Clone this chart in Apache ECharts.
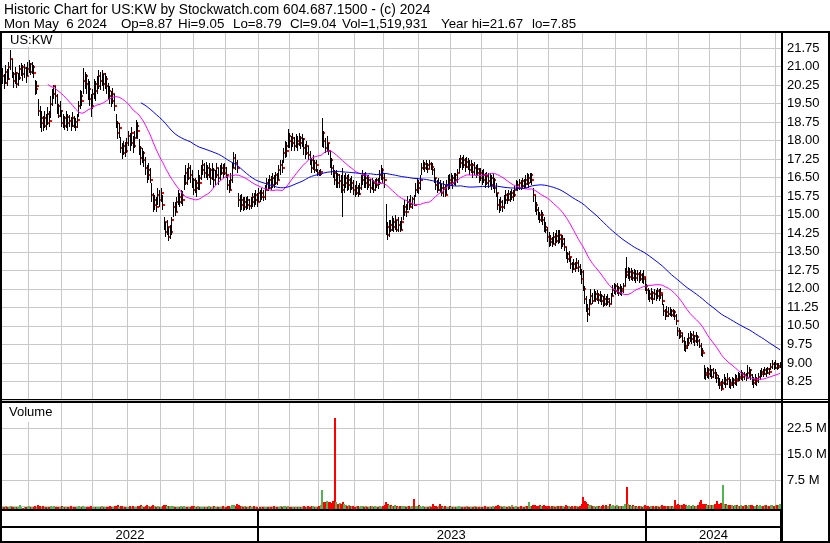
<!DOCTYPE html>
<html>
<head>
<meta charset="utf-8">
<script src="https://cdn.jsdelivr.net/npm/echarts@6/dist/echarts.min.js"></script>
<style>html,body{margin:0;padding:0;background:#fff}#c{width:830px;height:543px}</style>
</head>
<body>
<div id="c"></div>
<script>
// ---------------- data ----------------
const title1 = 'Historic Chart for US:KW by Stockwatch.com 604.687.1500 - (c) 2024';
const title2Fields = ['Mon May  6 2024', 'Op=8.87', 'Hi=9.05', 'Lo=8.79', 'Cl=9.04', 'Vol=1,519,931', 'Year hi=21.67', 'lo=7.85'];
const symbolLabel = 'US:KW';
const volumeLabel = 'Volume';
const yearLabels = ['2022', '2023', '2024'];
const firstDay = '2022-05-06';
const lastDay = '2024-05-06';
const holidays = ['2022-05-30','2022-06-20','2022-07-04','2022-09-05','2022-11-24','2022-12-26',
  '2023-01-02','2023-01-16','2023-02-20','2023-04-07','2023-05-29','2023-06-19','2023-07-04',
  '2023-09-04','2023-11-23','2023-12-25','2024-01-01','2024-01-15','2024-02-19','2024-03-29'];

const closes = [
20.60,20.35,20.80,20.50,21.00,21.30,20.70,20.40,20.75,20.30,
20.55,20.90,21.00,20.70,20.95,20.60,20.90,21.10,20.80,21.00,
20.75,20.10,20.20,19.20,18.70,18.90,18.60,18.90,18.70,19.10,
18.80,19.50,19.90,20.20,19.80,19.40,19.00,19.20,18.70,18.90,
18.60,18.95,18.70,18.80,18.60,18.90,18.75,18.55,18.85,19.40,
19.80,19.60,20.40,20.60,20.30,20.10,19.70,19.40,19.90,20.30,
20.00,20.20,20.60,20.40,20.70,20.30,20.50,20.20,20.00,19.80,
19.60,19.90,19.40,18.70,18.30,18.50,17.70,17.50,17.80,17.60,
17.90,18.20,17.90,18.30,17.80,18.10,18.60,18.40,17.70,17.30,
17.50,17.20,16.90,16.60,16.80,16.40,15.80,15.40,15.60,15.30,
15.80,15.60,15.90,15.40,14.70,14.30,14.50,14.10,14.30,14.80,
15.30,15.10,15.50,15.70,15.50,15.80,15.60,16.30,16.70,16.50,
16.90,16.60,16.40,16.00,16.30,16.10,16.50,16.30,16.80,17.00,
16.70,16.90,16.60,16.80,16.50,16.80,16.40,16.60,16.90,16.50,
16.70,16.90,16.70,16.90,16.60,16.20,16.00,16.40,16.90,17.30,
17.10,16.90,15.60,15.40,15.60,15.30,15.50,15.40,15.60,15.35,
15.50,15.70,15.60,15.80,15.50,15.90,15.70,15.90,15.70,16.00,
16.30,16.10,16.40,16.20,16.50,16.30,16.60,16.40,16.80,17.00,
16.90,17.50,17.80,17.60,18.20,18.00,17.90,18.10,17.80,18.00,
17.85,18.10,17.90,18.05,17.70,17.50,17.80,17.40,17.20,16.90,
17.10,16.80,17.00,16.70,16.65,16.75,18.30,18.00,17.70,17.90,
17.60,17.20,16.90,16.70,16.40,16.60,16.30,16.35,16.20,16.00,
16.30,16.50,16.20,16.40,16.10,16.30,16.00,15.90,16.10,15.85,
16.10,16.40,16.60,16.30,16.50,16.20,16.40,16.10,16.30,16.00,
16.20,16.40,16.30,16.60,16.80,16.50,16.40,14.50,14.20,14.60,
14.40,14.70,14.50,14.80,14.40,14.60,14.40,14.70,15.10,15.30,
15.10,15.50,15.30,15.45,15.65,15.40,16.00,16.30,16.10,16.40,
16.90,17.05,16.90,17.00,16.85,17.05,16.95,16.80,16.50,16.20,
16.00,16.30,16.10,15.90,16.10,15.80,16.20,16.40,16.30,16.50,
16.30,16.60,16.40,16.70,17.10,17.25,17.00,17.20,16.95,17.15,
17.00,16.80,17.00,16.75,16.90,16.70,16.85,16.50,16.70,16.40,
16.60,16.30,16.55,16.35,16.50,16.20,16.40,16.10,15.90,15.40,
15.30,15.50,15.30,15.60,15.80,15.60,15.85,15.70,15.90,15.80,
16.00,16.20,16.10,16.30,16.15,16.35,16.25,16.40,16.30,16.50,
16.60,16.40,15.80,15.40,15.20,15.00,14.80,15.00,14.80,14.50,
14.40,14.10,13.90,14.00,13.80,14.10,13.95,14.15,14.00,14.20,
13.80,14.00,13.70,13.40,13.20,13.30,13.00,12.80,13.00,12.85,
13.05,12.90,12.70,12.40,12.00,11.60,11.20,11.00,11.40,11.70,
11.50,11.80,11.60,11.75,11.55,11.70,11.50,11.40,11.60,11.45,
11.60,11.40,11.70,11.95,12.10,11.90,12.05,11.85,12.00,11.90,
12.10,12.70,12.55,12.70,12.50,12.65,12.45,12.60,12.45,12.60,
12.40,12.55,12.40,12.50,12.10,11.95,11.80,11.65,11.85,11.60,
11.80,11.70,11.90,11.75,11.85,11.50,11.10,10.90,11.05,11.00,
11.10,10.95,11.05,10.90,10.70,10.30,10.10,10.20,9.90,9.70,
9.60,9.80,10.00,10.15,9.95,10.10,9.90,10.05,9.90,9.70,
9.50,9.40,8.60,8.50,8.70,8.55,8.70,8.45,8.60,8.50,
8.40,8.20,8.10,7.95,8.20,8.30,8.15,8.35,8.20,8.10,
8.30,8.20,8.35,8.25,8.45,8.40,8.55,8.45,8.50,8.40,
8.60,8.70,8.50,8.30,8.20,8.35,8.25,8.45,8.55,8.65,
8.55,8.70,8.60,8.75,8.65,8.85,8.95,8.80,8.95,8.85,
8.87,9.04];

const highs = [
20.95,20.70,21.05,20.90,21.20,21.67,21.30,20.80,21.00,20.80,
20.75,21.05,21.15,21.05,21.10,21.00,21.20,21.25,21.15,21.20,
21.05,20.45,20.40,19.70,19.40,19.20,19.00,19.20,19.10,19.35,
19.20,19.80,20.10,20.25,20.20,19.90,19.50,19.60,19.25,19.10,
19.00,19.20,19.10,19.05,18.95,19.15,19.00,18.90,19.10,19.60,
20.05,20.00,20.93,20.80,20.70,20.50,20.40,19.90,20.10,20.50,
20.40,20.60,20.85,20.80,20.85,20.70,20.75,20.60,20.35,20.20,
20.00,20.15,19.90,19.10,18.80,18.70,18.15,17.90,18.00,17.95,
18.10,18.40,18.30,18.55,18.20,18.40,18.83,18.75,18.05,17.80,
17.70,17.60,17.35,17.00,17.10,16.90,16.30,15.90,15.80,15.70,
16.10,16.00,16.10,15.80,14.90,14.70,14.80,14.50,14.60,14.90,
15.50,15.50,15.70,16.00,15.90,16.00,15.95,16.60,17.00,16.90,
17.10,17.00,16.80,16.50,16.50,16.40,16.80,16.60,17.00,17.20,
17.10,17.15,17.00,17.10,16.90,17.10,16.90,16.80,17.10,16.90,
17.00,17.10,17.05,17.10,16.95,16.60,16.40,16.70,17.10,17.55,
17.45,17.20,15.90,15.80,15.85,15.70,15.70,15.70,15.75,15.65,
15.70,15.90,15.90,16.00,15.90,16.10,16.00,16.10,16.00,16.20,
16.50,16.45,16.60,16.55,16.70,16.60,16.75,16.70,17.00,17.20,
17.20,17.70,18.00,17.95,18.47,18.30,18.20,18.30,18.15,18.25,
18.20,18.30,18.20,18.25,18.10,17.85,18.00,17.80,17.60,17.30,
17.40,17.20,17.20,16.85,16.80,16.85,18.90,18.40,18.10,18.20,
17.90,17.60,17.30,17.00,16.80,16.80,16.70,16.65,16.60,16.90,
16.60,16.70,16.60,16.65,16.50,16.55,16.40,16.20,16.35,16.20,
16.30,16.60,16.80,16.70,16.75,16.60,16.60,16.45,16.50,16.40,
16.45,16.50,16.50,16.80,17.00,16.90,16.70,15.45,14.70,14.80,
14.80,14.95,14.85,15.00,14.80,14.90,14.75,14.90,15.40,15.60,
15.45,15.75,15.65,15.80,15.70,15.80,16.30,16.50,16.40,16.60,
17.10,17.20,17.15,17.20,17.10,17.20,17.15,17.10,16.90,16.50,
16.40,16.50,16.40,16.25,16.35,16.20,16.40,16.60,16.65,16.70,
16.60,16.70,16.70,16.85,17.30,17.42,17.35,17.40,17.30,17.35,
17.30,17.20,17.20,17.10,17.15,17.00,17.05,16.90,16.90,16.80,
16.85,16.70,16.75,16.70,16.70,16.60,16.65,16.50,16.30,15.90,
15.65,15.70,15.60,15.80,16.00,15.90,16.00,15.95,16.05,16.00,
16.15,16.40,16.35,16.45,16.40,16.50,16.45,16.60,16.70,16.65,
16.70,16.70,16.10,15.80,15.50,15.30,15.10,15.20,15.10,14.90,
14.70,14.50,14.30,14.20,14.10,14.30,14.25,14.40,14.40,14.40,
14.20,14.20,14.05,13.70,13.50,13.55,13.30,13.10,13.20,13.10,
13.25,13.15,13.00,12.80,12.75,12.10,11.70,11.40,11.60,12.00,
11.85,12.00,11.90,11.95,11.85,11.90,11.80,11.70,11.80,11.70,
11.80,11.65,11.85,12.15,12.25,12.20,12.25,12.10,12.20,12.10,
12.25,12.85,13.30,12.90,12.85,12.85,12.75,12.80,12.75,12.75,
12.70,12.75,12.65,12.75,12.50,12.20,12.05,11.95,12.05,11.90,
12.00,11.95,12.05,12.00,12.05,11.80,11.40,11.20,11.30,11.25,
11.25,11.20,11.20,11.15,11.00,10.45,10.40,10.35,10.20,10.05,
9.90,10.00,10.20,10.30,10.20,10.30,10.15,10.25,10.15,9.95,
9.80,9.60,8.90,8.80,8.85,8.80,8.90,8.75,8.80,8.75,
8.65,8.50,8.40,8.25,8.35,8.55,8.45,8.60,8.45,8.35,
8.45,8.40,8.55,8.50,8.65,8.60,8.70,8.65,8.65,8.60,
8.90,8.85,8.75,8.55,8.45,8.55,8.45,8.60,8.70,8.80,
8.75,8.85,8.80,8.85,8.80,9.00,9.10,9.05,9.10,9.00,
9.00,9.05];

const lows = [
20.30,20.10,20.30,20.20,20.45,20.85,20.55,20.15,20.30,20.15,
20.20,20.45,20.60,20.40,20.55,20.35,20.60,20.75,20.65,20.70,
20.55,19.85,19.90,19.00,18.50,18.35,18.40,18.50,18.45,18.65,
18.55,18.90,19.40,19.70,19.50,19.10,18.90,18.95,18.55,18.50,
18.45,18.50,18.40,18.55,18.40,18.55,18.50,18.40,18.50,18.95,
19.30,19.40,19.90,20.10,19.90,19.65,19.40,18.95,19.30,19.70,
19.60,19.90,20.10,20.05,20.20,20.00,20.10,19.90,19.70,19.50,
19.35,19.50,19.20,18.50,18.05,18.10,17.50,17.25,17.40,17.35,
17.50,17.80,17.60,17.80,17.50,17.70,18.10,18.05,17.40,17.00,
17.10,16.95,16.60,16.30,16.40,16.30,15.50,15.10,15.20,15.10,
15.40,15.30,15.50,15.20,14.40,14.10,14.20,13.95,14.00,14.20,
14.90,14.95,15.10,15.40,15.30,15.45,15.35,16.00,16.20,16.20,
16.40,16.30,16.10,15.80,15.90,15.70,16.00,16.00,16.40,16.60,
16.50,16.50,16.40,16.50,16.20,16.40,16.10,16.20,16.50,16.20,
16.40,16.60,16.50,16.60,16.50,16.00,15.90,16.00,16.30,16.90,
16.80,16.70,15.30,15.10,15.20,15.15,15.20,15.20,15.25,15.20,
15.25,15.30,15.30,15.40,15.30,15.50,15.50,15.60,15.55,15.60,
16.00,15.95,16.05,16.00,16.10,16.10,16.20,16.20,16.40,16.60,
16.70,17.10,17.30,17.35,17.70,17.70,17.60,17.75,17.60,17.70,
17.60,17.80,17.65,17.75,17.40,17.25,17.40,17.20,17.00,16.70,
16.80,16.70,16.75,16.55,16.55,16.55,17.75,17.70,17.50,17.55,
17.40,16.90,16.60,16.50,16.20,16.10,16.10,16.10,15.90,14.90,
15.90,16.10,15.95,16.00,15.90,16.00,15.80,15.70,15.80,15.70,
15.80,16.00,16.20,16.10,16.10,16.00,16.10,15.90,16.00,15.90,
15.95,16.10,16.05,16.20,16.40,16.30,16.10,14.20,13.97,14.10,
14.30,14.35,14.30,14.40,14.30,14.30,14.30,14.40,14.80,14.95,
14.90,15.20,15.20,15.30,15.25,15.35,15.70,15.90,15.85,16.00,
16.60,16.80,16.75,16.80,16.70,16.85,16.80,16.60,16.30,16.00,
15.90,15.95,15.90,15.75,15.70,15.70,15.80,16.00,16.05,16.15,
16.05,16.20,16.15,16.30,16.70,16.90,16.80,16.90,16.75,16.90,
16.80,16.60,16.70,16.50,16.60,16.50,16.55,16.30,16.35,16.20,
16.30,16.10,16.20,16.10,16.15,16.00,16.05,15.90,15.70,15.20,
15.07,15.15,15.10,15.25,15.45,15.45,15.55,15.50,15.60,15.55,
15.70,16.00,15.95,16.00,16.00,16.05,16.05,16.10,16.20,16.10,
16.30,16.20,15.50,15.10,15.00,14.80,14.65,14.70,14.60,14.30,
14.25,13.90,13.70,13.75,13.70,13.80,13.75,13.85,13.80,13.85,
13.60,13.70,13.55,13.20,13.05,13.10,12.80,12.65,12.75,12.70,
12.80,12.70,12.55,12.20,11.90,11.40,11.05,10.67,10.90,11.40,
11.40,11.50,11.45,11.50,11.40,11.45,11.35,11.25,11.30,11.30,
11.35,11.25,11.40,11.70,11.80,11.75,11.80,11.70,11.75,11.70,
11.85,12.10,12.45,12.40,12.30,12.35,12.30,12.30,12.25,12.30,
12.25,12.30,12.25,12.20,11.90,11.80,11.55,11.45,11.55,11.40,
11.55,11.50,11.60,11.50,11.60,11.35,10.90,10.75,10.85,10.85,
10.90,10.85,10.85,10.75,10.55,10.10,9.95,10.00,9.80,9.50,
9.45,9.55,9.70,9.85,9.75,9.80,9.70,9.80,9.70,9.60,
9.30,9.25,8.35,8.30,8.40,8.35,8.45,8.35,8.40,8.35,
8.20,8.05,7.95,7.85,7.95,8.10,8.00,8.10,8.00,7.95,
8.05,8.00,8.10,8.05,8.25,8.25,8.30,8.25,8.30,8.25,
8.40,8.40,8.30,8.10,8.00,8.10,8.05,8.20,8.30,8.45,
8.45,8.50,8.45,8.55,8.50,8.70,8.75,8.70,8.75,8.70,
8.75,8.79];

// daily volume, millions of shares
const volumes = [
0.8,0.7,0.9,0.6,0.8,1.0,0.7,0.6,0.8,0.7,
0.6,1.2,0.7,0.5,0.8,0.6,0.7,0.9,0.6,0.8,
0.7,0.9,0.8,1.1,1.0,0.8,0.9,0.7,0.6,0.8,
0.7,0.9,0.8,1.0,0.7,0.6,0.8,0.7,0.9,0.6,
0.7,0.8,0.6,0.7,0.9,0.6,0.7,0.8,0.6,0.9,
0.8,0.7,1.0,0.8,0.7,0.6,0.8,0.9,0.7,0.8,
0.6,0.7,0.8,0.6,0.9,0.7,0.6,0.8,0.7,0.9,
0.8,0.7,0.9,1.0,1.1,0.8,1.0,0.9,0.8,0.7,
0.8,0.7,0.9,0.8,1.0,0.7,0.8,0.9,1.0,1.15,
0.9,0.8,1.0,1.1,0.9,0.8,1.0,1.1,0.9,0.8,
0.9,0.8,0.7,0.9,1.2,1.1,0.9,1.0,0.9,1.0,
0.9,0.8,0.7,0.8,0.7,0.9,0.8,0.9,0.8,0.7,
0.8,0.7,0.9,1.0,0.8,0.7,0.9,0.8,0.7,0.8,
0.7,0.8,0.6,0.9,0.7,0.8,0.9,0.7,0.8,0.6,
0.7,0.8,0.9,0.7,0.8,1.0,0.9,0.8,1.1,1.2,
0.9,1.5,1.3,1.0,0.9,0.8,0.9,0.7,0.8,0.9,
0.8,0.7,0.9,0.6,0.7,0.5,0.8,0.7,0.6,0.7,
0.8,0.6,0.7,0.8,0.7,0.9,0.6,0.7,0.8,0.9,
0.7,1.0,0.9,0.8,1.0,0.8,0.7,0.8,0.6,0.8,
0.7,0.6,0.8,0.7,0.9,0.8,0.7,0.9,0.8,1.0,
0.9,0.8,0.7,0.8,1.0,1.2,5.5,2.2,2.0,2.3,
2.2,2.1,1.8,2.3,26.3,2.2,1.6,1.9,1.5,2.0,
1.4,1.2,1.0,1.1,0.9,1.0,0.9,0.8,1.0,0.9,
0.8,1.0,0.9,0.8,0.9,0.7,0.8,1.0,0.9,0.8,
0.9,0.8,0.7,0.9,0.8,1.0,1.1,2.0,1.6,1.3,
1.2,1.0,0.9,1.1,0.9,0.8,1.0,0.9,1.0,0.9,
0.8,0.9,1.0,0.8,0.9,2.9,1.0,0.9,1.2,1.0,
0.8,0.9,0.7,0.8,0.7,0.9,0.8,1.45,1.0,0.9,
0.8,0.9,1.4,1.0,0.8,0.9,0.7,0.8,0.9,0.7,
0.8,0.6,0.7,0.8,0.9,0.7,0.6,0.8,0.7,0.9,
0.8,0.7,0.6,0.8,0.9,0.7,0.8,0.6,0.7,0.8,
0.7,0.9,0.8,0.7,0.6,0.8,0.9,0.8,1.0,1.1,
1.0,0.9,0.8,0.9,0.7,0.8,0.9,0.7,1.15,0.8,
0.8,0.9,0.7,0.8,0.9,0.7,0.8,0.9,1.0,2.0,
1.0,0.9,1.1,1.2,1.0,0.9,1.1,1.0,0.9,1.1,
1.0,0.9,1.0,0.8,0.9,1.0,0.8,0.9,1.0,0.9,
0.9,1.0,0.8,1.1,1.0,0.9,0.8,0.9,0.8,1.0,
0.9,0.8,1.0,1.4,3.5,2.4,2.0,1.6,1.2,1.1,
1.0,0.9,0.8,0.9,1.0,0.8,0.9,1.2,1.0,1.1,
0.9,1.5,1.0,1.1,0.9,1.0,1.2,0.9,1.0,0.9,
1.0,1.5,6.3,1.6,1.2,1.0,1.1,0.9,1.0,0.8,
0.9,1.0,0.8,0.9,1.1,1.0,0.9,0.8,1.0,0.9,
0.8,0.9,1.0,0.8,0.9,1.1,1.0,0.9,1.0,0.9,
1.0,0.9,0.8,2.7,1.2,1.4,1.3,1.1,1.2,1.4,
1.2,1.0,1.1,0.9,1.0,1.1,0.9,1.0,1.2,2.0,
2.7,1.5,1.6,1.4,1.3,1.2,1.1,1.3,1.2,1.4,
2.3,1.4,1.6,1.8,7.0,1.6,1.4,1.2,1.1,1.3,
1.2,1.0,1.1,1.3,1.0,0.9,1.1,1.0,1.2,1.1,
1.0,1.2,1.3,1.1,1.0,0.9,1.2,1.0,1.1,0.9,
1.0,1.1,1.2,0.9,1.0,1.1,1.2,1.0,1.1,1.3,
1.2,1.52];

const maShort = 30;   // magenta moving average (days)
const maLong = 90;    // blue moving average (days)

// ---------------- derived helpers ----------------
function tradingDays(from, to, hol) {
  const out = [];
  const hs = new Set(hol);
  const [fy, fm, fd] = from.split('-').map(Number);
  const [ty, tm, td] = to.split('-').map(Number);
  let t = Date.UTC(fy, fm - 1, fd);
  const end = Date.UTC(ty, tm - 1, td);
  while (t <= end) {
    const d = new Date(t);
    const wd = d.getUTCDay();
    const s = d.toISOString().slice(0, 10);
    if (wd !== 0 && wd !== 6 && !hs.has(s)) out.push(s);
    t += 86400000;
  }
  return out;
}
function sma(arr, n) {
  return arr.map((v, i) => {
    if (i < n - 1) return null;
    let s = 0;
    for (let k = i - n + 1; k <= i; k++) s += arr[k];
    return +(s / n).toFixed(4);
  });
}

const dates = tradingDays(firstDay, lastDay, holidays);
const N = Math.min(dates.length, closes.length);
const cats = dates.slice(0, N);
const monthStart = cats.map((d, i) => i > 0 && d.slice(0, 7) !== cats[i - 1].slice(0, 7));
const yearStart = cats.map((d, i) => i > 0 && d.slice(0, 4) !== cats[i - 1].slice(0, 4));
const yearMid = cats.map(() => false);
yearLabels.forEach(y => {
  const idx = [];
  cats.forEach((d, i) => { if (d.slice(0, 4) === y) idx.push(i); });
  if (idx.length) yearMid[idx[Math.floor((idx.length - 1) / 2)]] = true;
});

const priceData = cats.map((d, i) => [i, highs[i], lows[i], closes[i]]);
const volData = cats.map((d, i) => [i, volumes[i], i === 0 || closes[i] >= closes[i - 1] ? 1 : 0]);
const ma1 = sma(closes.slice(0, N), maShort);
const ma2 = sma(closes.slice(0, N), maLong);

// ---------------- chart ----------------
const FONT = '"Liberation Sans", Arial, sans-serif';
const GRID = '#c8c8c8';
const title2X = [4, 121, 178, 233, 290, 342, 441, 532];
const chart = echarts.init(document.getElementById('c'), null, { renderer: 'canvas' });

const xBase = {
  type: 'category', data: cats, boundaryGap: true,
  axisLine: { show: false }, axisTick: { show: false }, axisLabel: { show: false }
};

const graphics = [
  { type: 'text', x: 4, y: 3, z: 100, style: { text: title1, font: '13.8px ' + FONT, fill: '#000' } },
  // frame lines
  { type: 'rect', z: 100, shape: { x: 0, y: 31, width: 830, height: 2 }, style: { fill: '#000' } },
  { type: 'rect', z: 100, shape: { x: 0, y: 31, width: 2, height: 512 }, style: { fill: '#000' } },
  { type: 'rect', z: 100, shape: { x: 828, y: 31, width: 2, height: 512 }, style: { fill: '#000' } },
  { type: 'rect', z: 100, shape: { x: 781, y: 31, width: 2, height: 512 }, style: { fill: '#000' } },
  { type: 'rect', z: 100, shape: { x: 0, y: 399, width: 830, height: 1 }, style: { fill: '#000' } },
  { type: 'rect', z: 100, shape: { x: 0, y: 401, width: 830, height: 2 }, style: { fill: '#000' } },
  { type: 'rect', z: 100, shape: { x: 0, y: 509, width: 782, height: 2 }, style: { fill: '#000' } },
  { type: 'rect', z: 100, shape: { x: 0, y: 526, width: 782, height: 2 }, style: { fill: '#000' } },
  { type: 'rect', z: 100, shape: { x: 0, y: 541, width: 830, height: 2 }, style: { fill: '#000' } },
  // panel labels
  { type: 'rect', z: 99, shape: { x: 2, y: 33, width: 54, height: 14 }, style: { fill: '#fff' } },
  { type: 'text', x: 10, y: 34, z: 100, style: { text: symbolLabel, font: '13px ' + FONT, fill: '#000' } },
  { type: 'rect', z: 99, shape: { x: 2, y: 403, width: 54, height: 19 }, style: { fill: '#fff' } },
  { type: 'text', x: 9, y: 406, z: 100, style: { text: volumeLabel, font: '13px ' + FONT, fill: '#000' } }
];
title2Fields.forEach((t, k) => graphics.push(
  { type: 'text', x: title2X[k], y: 18, z: 100, style: { text: t, font: '13.33px ' + FONT, fill: '#000' } }));

chart.setOption({
  animation: false,
  backgroundColor: '#fff',
  grid: [
    { left: 2, right: 49, top: 32, height: 368 },
    { left: 2, right: 49, top: 402.3, height: 104 },
    { left: 2, right: 49, top: 511, height: 30 }
  ],
  xAxis: [
    Object.assign({}, xBase, { gridIndex: 0,
      splitLine: { show: true, interval: (i) => !!monthStart[i], lineStyle: { color: GRID, width: 1 } } }),
    Object.assign({}, xBase, { gridIndex: 1,
      splitLine: { show: true, interval: (i) => !!monthStart[i], lineStyle: { color: GRID, width: 1 } } }),
    Object.assign({}, xBase, { gridIndex: 2,
      splitLine: { show: true, interval: (i) => !!yearStart[i], lineStyle: { color: '#000', width: 2 } },
      axisLabel: { show: true, inside: true, interval: (i) => !!yearMid[i], margin: -1,
        formatter: (v) => v.slice(0, 4), color: '#000', fontSize: 13, fontFamily: FONT } })
  ],
  yAxis: [
    { type: 'value', gridIndex: 0, position: 'right', min: 7.5, max: 22.4, interval: 0.75,
      axisLine: { show: false }, axisTick: { show: false },
      axisLabel: { showMinLabel: false, showMaxLabel: false, margin: 6, color: '#000', fontSize: 13,
        fontFamily: FONT, formatter: (v) => v.toFixed(2) },
      splitLine: { show: true, lineStyle: { color: GRID, width: 1 } } },
    { type: 'value', gridIndex: 1, position: 'right', min: 0, max: 30, interval: 7.5,
      axisLine: { show: false }, axisTick: { show: false },
      axisLabel: { showMinLabel: false, showMaxLabel: false, margin: 6, color: '#000', fontSize: 13,
        fontFamily: FONT, formatter: (v) => v.toFixed(1) + ' M' },
      splitLine: { show: true, lineStyle: { color: GRID, width: 1 } } },
    { type: 'value', gridIndex: 2, show: false, min: 0, max: 1 }
  ],
  series: [
    {
      type: 'custom', xAxisIndex: 0, yAxisIndex: 0, data: priceData, z: 3, clip: true,
      encode: { x: 0, y: [1, 2, 3] },
      renderItem: (params, api) => {
        const i = api.value(0);
        const hi = api.coord([i, api.value(1)]);
        const lo = api.coord([i, api.value(2)]);
        const cl = api.coord([i, api.value(3)]);
        const x = Math.round(hi[0] - 0.5);
        const y0 = Math.round(hi[1]);
        const h = Math.max(1, Math.round(lo[1]) - y0);
        return { type: 'group', children: [
          { type: 'rect', shape: { x: x, y: y0, width: 1, height: h }, style: { fill: '#000' } },
          { type: 'rect', shape: { x: x + 1, y: Math.round(cl[1] - 1), width: 2, height: 2 }, style: { fill: '#ff0000' } }
        ] };
      }
    },
    { type: 'line', xAxisIndex: 0, yAxisIndex: 0, data: ma1, showSymbol: false, z: 4,
      lineStyle: { color: '#ff00ff', width: 1 }, connectNulls: false },
    { type: 'line', xAxisIndex: 0, yAxisIndex: 0, data: ma2, showSymbol: false, z: 4,
      lineStyle: { color: '#0000ff', width: 1 }, connectNulls: false },
    {
      type: 'custom', xAxisIndex: 1, yAxisIndex: 1, data: volData, z: 3,
      encode: { x: 0, y: 1 },
      renderItem: (params, api) => {
        const i = api.value(0);
        const b = api.coord([i, 0]);
        const t = api.coord([i, api.value(1)]);
        const x = Math.round(t[0] - 1);
        const off = 3;
        const y0 = Math.round(t[1] + off);
        return { type: 'rect', shape: { x: x, y: y0, width: 2, height: Math.round(b[1] + off) - y0 },
          style: { fill: api.value(2) ? '#50b450' : '#ff0000' } };
      }
    }
  ],
  graphic: { elements: graphics }
});
</script>
</body>
</html>
